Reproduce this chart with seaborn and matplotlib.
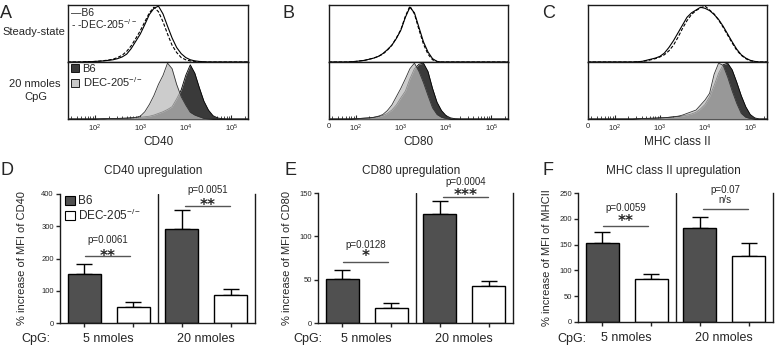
import numpy as np
import pandas as pd
import matplotlib
matplotlib.use('Agg')
import matplotlib.pyplot as plt
import seaborn as sns
from matplotlib.patches import Patch

# ---------------- data ----------------
# flow cytometry channels (log10 of fluorescence intensity)
LOG_CHANNEL = [1.4, 1.5, 1.6, 1.7, 1.8, 1.9,
               2.0, 2.1, 2.2, 2.3, 2.4, 2.5, 2.6, 2.7, 2.8, 2.9,
               3.0, 3.1, 3.2, 3.3, 3.4, 3.5, 3.6, 3.7, 3.8, 3.9,
               4.0, 4.1, 4.2, 4.3, 4.4, 4.5, 4.6, 4.7, 4.8, 4.9,
               5.0, 5.1, 5.2, 5.3, 5.4]

# normalised cell counts
CD40_SS_B6 = [0, 0, 0, 0, 0.005, 0.005,
              0.01, 0.015, 0.02, 0.03, 0.04, 0.06, 0.09, 0.14, 0.24, 0.37,
              0.5, 0.67, 0.85, 0.96, 1.0, 0.86, 0.64, 0.43, 0.26, 0.15,
              0.08, 0.04, 0.02, 0.01, 0.005, 0, 0, 0, 0, 0,
              0, 0, 0, 0, 0]
CD40_SS_DEC = [0, 0, 0, 0, 0.005, 0.005,
               0.01, 0.015, 0.025, 0.035, 0.05, 0.08, 0.12, 0.19, 0.29, 0.42,
               0.56, 0.72, 0.88, 0.98, 0.9, 0.72, 0.5, 0.3, 0.17, 0.08,
               0.04, 0.02, 0.01, 0.005, 0, 0, 0, 0, 0, 0,
               0, 0, 0, 0, 0]
CD40_CPG_B6 = [0, 0, 0, 0, 0, 0,
               0, 0, 0.005, 0.005, 0.01, 0.01, 0.01, 0.015, 0.02, 0.02,
               0.03, 0.04, 0.05, 0.07, 0.1, 0.13, 0.17, 0.22, 0.36, 0.52,
               0.78, 0.97, 0.82, 0.56, 0.32, 0.16, 0.06, 0.02, 0.005, 0,
               0, 0, 0, 0, 0]
CD40_CPG_DEC = [0, 0, 0, 0, 0, 0,
                0, 0.005, 0.005, 0.01, 0.01, 0.01, 0.015, 0.015, 0.02, 0.03,
                0.05, 0.13, 0.26, 0.42, 0.62, 0.78, 1.0, 0.9, 0.62, 0.4,
                0.25, 0.12, 0.07, 0.04, 0.01, 0.005, 0, 0, 0, 0,
                0, 0, 0, 0, 0]

CD80_SS_B6 = [0, 0, 0, 0, 0, 0.005,
              0.01, 0.02, 0.03, 0.05, 0.07, 0.1, 0.15, 0.22, 0.3, 0.42,
              0.57, 0.8, 0.98, 0.88, 0.62, 0.36, 0.18, 0.06, 0.01, 0,
              0, 0, 0, 0, 0, 0, 0, 0, 0, 0,
              0, 0, 0, 0, 0]
CD80_SS_DEC = [0, 0, 0, 0, 0, 0.005,
               0.01, 0.02, 0.03, 0.05, 0.07, 0.1, 0.14, 0.21, 0.3, 0.43,
               0.58, 0.82, 1.0, 0.86, 0.58, 0.32, 0.14, 0.04, 0.01, 0,
               0, 0, 0, 0, 0, 0, 0, 0, 0, 0,
               0, 0, 0, 0, 0]
CD80_CPG_B6 = [0, 0, 0, 0, 0, 0,
               0.005, 0.01, 0.015, 0.02, 0.03, 0.04, 0.06, 0.1, 0.16, 0.25,
               0.38, 0.5, 0.72, 0.9, 0.98, 1.0, 0.85, 0.55, 0.3, 0.15,
               0.06, 0.02, 0.005, 0, 0, 0, 0, 0, 0, 0,
               0, 0, 0, 0, 0]
CD80_CPG_DEC = [0, 0, 0, 0, 0, 0,
                0.005, 0.01, 0.015, 0.02, 0.03, 0.05, 0.08, 0.15, 0.25, 0.4,
                0.55, 0.72, 0.9, 1.0, 0.85, 0.65, 0.42, 0.2, 0.08, 0.03,
                0.01, 0, 0, 0, 0, 0, 0, 0, 0, 0,
                0, 0, 0, 0, 0]

MHC_SS_B6 = [0, 0, 0, 0, 0, 0,
             0, 0, 0, 0, 0, 0.005, 0.01, 0.03, 0.05, 0.07,
             0.1, 0.16, 0.26, 0.38, 0.52, 0.66, 0.8, 0.88, 0.93, 0.98,
             0.96, 0.92, 0.85, 0.76, 0.64, 0.5, 0.36, 0.23, 0.13, 0.07,
             0.03, 0.01, 0, 0, 0]
MHC_SS_DEC = [0, 0, 0, 0, 0, 0,
              0, 0, 0, 0, 0, 0.005, 0.01, 0.02, 0.04, 0.06,
              0.09, 0.13, 0.2, 0.3, 0.44, 0.6, 0.74, 0.85, 0.92, 0.97,
              1.0, 0.93, 0.86, 0.75, 0.62, 0.48, 0.34, 0.21, 0.12, 0.06,
              0.02, 0.01, 0, 0, 0]
MHC_CPG_B6 = [0, 0, 0, 0, 0, 0,
              0, 0, 0, 0, 0, 0.005, 0.01, 0.01, 0.01, 0.015,
              0.02, 0.02, 0.03, 0.035, 0.04, 0.05, 0.07, 0.09, 0.12, 0.18,
              0.26, 0.4, 0.6, 0.82, 0.97, 1.0, 0.88, 0.66, 0.42, 0.22,
              0.08, 0.02, 0, 0, 0]
MHC_CPG_DEC = [0, 0, 0, 0, 0, 0,
               0, 0, 0, 0, 0, 0.005, 0.01, 0.01, 0.015, 0.015,
               0.02, 0.025, 0.03, 0.04, 0.05, 0.07, 0.1, 0.13, 0.16, 0.25,
               0.34, 0.46, 0.8, 1.0, 0.96, 0.75, 0.5, 0.28, 0.1, 0.03,
               0.01, 0, 0, 0, 0]

HIST_TICKS = [1e2, 1e3, 1e4, 1e5]
HIST_TICK_LABELS = ['$10^2$', '$10^3$', '$10^4$', '$10^5$']

# bar charts: % increase of MFI (mean, SEM)
COND = ['B6 5', 'DEC 5', 'B6 20', 'DEC 20']
STRAIN = ['B6', 'DEC-205-/-', 'B6', 'DEC-205-/-']
DOSE_LABELS = ['5 nmoles', '20 nmoles']
CD40_MEAN = [153, 50, 292, 88]
CD40_SEM = [30, 15, 58, 18]
CD80_MEAN = [51, 17, 126, 43]
CD80_SEM = [10.5, 6.5, 15, 5]
MHC_MEAN = [154, 83, 182, 128]
MHC_SEM = [20, 10, 21, 26]
CD40_P = ['p=0.0061', 'p=0.0051']
CD40_SIG = ['**', '**']
CD80_P = ['p=0.0128', 'p=0.0004']
CD80_SIG = ['*', '***']
MHC_P = ['p=0.0059', 'p=0.07']
MHC_SIG = ['**', 'n/s']

# ---------------- style ----------------
sns.set_theme(style='ticks')
plt.rcParams['font.family'] = ['Liberation Sans', 'DejaVu Sans']
plt.rcParams['mathtext.fontset'] = 'custom'
plt.rcParams['mathtext.rm'] = 'Liberation Sans'
plt.rcParams['mathtext.it'] = 'Liberation Sans:italic'
plt.rcParams['mathtext.bf'] = 'Liberation Sans:bold'
plt.rcParams['axes.linewidth'] = 1.0
plt.rcParams['axes.edgecolor'] = '#1a1a1a'

HIST_DARK = '#3a3a3a'
HIST_LIGHT = (0.73, 0.73, 0.73)
BAR_DARK = '#505050'
SUP = '$^{-/-}$'

W, H = 775, 347
fig = plt.figure(figsize=(W / 100, H / 100), dpi=100)


def px_axes(x0, y0, x1, y1):
    return fig.add_axes([x0 / W, 1 - y1 / H, (x1 - x0) / W, (y1 - y0) / H])


def ftext(x, y, s, **kw):
    return fig.text(x / W, 1 - y / H, s, **kw)


XS = 10 ** np.array(LOG_CHANNEL)
XLIM = (10 ** 1.41, 10 ** 5.37)


def hist_pair(x0, x1, top_b6, top_dec, bot_b6, bot_dec, xlabel, show_zero):
    ax_t = px_axes(x0, 5, x1, 62)
    ax_b = px_axes(x0, 62, x1, 119)
    for ax in (ax_t, ax_b):
        ax.set_xscale('log')
        for s in ax.spines.values():
            s.set_visible(True)
            s.set_linewidth(1.0)
            s.set_color('#1a1a1a')
    # steady state: outlines only
    sns.lineplot(x=XS, y=top_b6, ax=ax_t, color='black', linewidth=0.8,
                 estimator=None, sort=False)
    sns.lineplot(x=XS, y=top_dec, ax=ax_t, color='black', linewidth=0.8,
                 linestyle=(0, (3, 1.6)), estimator=None, sort=False)
    # CpG: filled histograms
    ax_b.fill_between(XS, bot_b6, color=HIST_DARK, linewidth=0, zorder=1)
    sns.lineplot(x=XS, y=bot_b6, ax=ax_b, color='black', linewidth=0.6,
                 estimator=None, sort=False, zorder=2)
    ax_b.fill_between(XS, bot_dec, color=HIST_LIGHT, alpha=0.74, linewidth=0, zorder=3)
    sns.lineplot(x=XS, y=bot_dec, ax=ax_b, color='#333333', linewidth=0.6,
                 estimator=None, sort=False, zorder=4)
    for ax in (ax_t, ax_b):
        ax.set_xlim(*XLIM)
        ax.set_ylim(0, 1.02)
        ax.set_ylabel('')
        ax.set_xlabel('')
        ax.set_yticks([])
    ax_t.tick_params(axis='x', which='both', bottom=False, labelbottom=False)
    ticks = list(HIST_TICKS)
    labels = list(HIST_TICK_LABELS)
    if show_zero:
        ticks = [XLIM[0]] + ticks
        labels = ['0'] + labels
    ax_b.set_xticks(ticks, labels=labels)
    ax_b.tick_params(axis='x', which='major', direction='in', length=3, width=0.8,
                     labelsize=5.5, pad=3)
    ax_b.tick_params(axis='x', which='minor', direction='in', length=2, width=0.6)
    ax_b.set_xlabel(xlabel, fontsize=8.5, labelpad=1)
    return ax_t, ax_b


axA_t, axA_b = hist_pair(68, 248, CD40_SS_B6, CD40_SS_DEC, CD40_CPG_B6, CD40_CPG_DEC, 'CD40', False)
axB_t, axB_b = hist_pair(329, 508, CD80_SS_B6, CD80_SS_DEC, CD80_CPG_B6, CD80_CPG_DEC, 'CD80', True)
axC_t, axC_b = hist_pair(588, 767, MHC_SS_B6, MHC_SS_DEC, MHC_CPG_B6, MHC_CPG_DEC, 'MHC class II', True)

# legends in panel A
ftext(71, 16, '\u2014B6', fontsize=7.5, ha='left', va='baseline')
ftext(71, 29, '- -DEC-205' + SUP, fontsize=7.5, ha='left', va='baseline')
axA_b.legend(handles=[Patch(facecolor=HIST_DARK, edgecolor='black', linewidth=0.6, label='B6'),
                      Patch(facecolor='#c8c8c8', edgecolor='black', linewidth=0.6,
                            label='DEC-205' + SUP)],
             loc='upper left', bbox_to_anchor=(0.01, 0.98), frameon=False,
             fontsize=8, handlelength=0.75, handleheight=0.75, handletextpad=0.3,
             labelspacing=0.1, borderpad=0.1, borderaxespad=0)

ftext(34, 35, 'Steady-state', fontsize=8, ha='center', va='baseline')
ftext(35, 87, '20 nmoles', fontsize=8, ha='center', va='baseline')
ftext(36, 99.5, 'CpG', fontsize=8, ha='center', va='baseline')

for letter, x in (('A', 0), ('B', 283), ('C', 542)):
    ftext(x, 18, letter, fontsize=13, ha='left', va='baseline')
for letter, x in (('D', 0), ('E', 284), ('F', 542)):
    ftext(x, 175, letter, fontsize=13, ha='left', va='baseline')


def bar_panel(box, means, sems, ymax, ystep, ylabel, label_x, pvals, sigs,
              line_y, sig_y, p_y, title, title_x, cpg_x):
    ax = px_axes(*box)
    df = pd.DataFrame({'cond': COND, 'strain': STRAIN, 'value': means})
    sns.barplot(data=df, x='cond', y='value', hue='strain', order=COND,
                hue_order=['B6', 'DEC-205-/-'], palette=[BAR_DARK, 'white'],
                dodge=False, width=0.68, edgecolor='black', linewidth=1.0,
                errorbar=None, legend=False, ax=ax, zorder=2)
    bars = sorted([p for p in ax.patches if p.get_height() > 0], key=lambda p: p.get_x())
    cx = np.array([p.get_x() + p.get_width() / 2 for p in bars])
    tops = np.array([p.get_height() for p in bars])
    ax.errorbar(cx, tops, yerr=[np.zeros(len(sems)), sems], fmt='none', ecolor='black',
                elinewidth=1.0, capsize=5.5, capthick=1.0, zorder=1.5)
    ax.set_xlim(-0.5, 3.5)
    ax.set_ylim(0, ymax)
    ax.axvline(1.5, color='#1a1a1a', linewidth=1.0)
    sns.despine(ax=ax, top=True, right=False)
    ax.set_yticks(np.arange(0, ymax + 1, ystep))
    ax.tick_params(axis='y', length=3, width=1.0, labelsize=5.5, pad=1.5)
    ax.set_xticks(cx, labels=[''] * len(cx))
    ax.tick_params(axis='x', which='major', length=3, width=1.0)
    ax.set_xticks([0.5, 2.5], labels=DOSE_LABELS, minor=True)
    ax.tick_params(axis='x', which='minor', length=0, labelsize=9, pad=7)
    ax.set_xlabel('')
    ax.set_ylabel(ylabel, fontsize=8)
    ax.yaxis.set_label_coords(label_x, 0.5)
    # significance brackets
    for i, (xa, xb) in enumerate(((0.02, 0.94), (2.06, 2.98))):
        ax.plot([xa, xb], [line_y[i], line_y[i]], color='#555555', linewidth=1.0,
                clip_on=False)
        xm = (xa + xb) / 2
        ax.text(xm, p_y[i], pvals[i], fontsize=7, ha='center', va='center', clip_on=False)
        if sigs[i].startswith('*'):
            ax.annotate(sigs[i], (xm, sig_y[i]), xytext=(0, -6.2), textcoords='offset points',
                        fontsize=11, fontweight='bold', family='DejaVu Sans',
                        ha='center', va='baseline', annotation_clip=False)
        else:
            ax.text(xm, sig_y[i], sigs[i], fontsize=7, ha='center', va='center', clip_on=False)
    ftext(title_x, 174, title, fontsize=8.5, ha='center', va='baseline')
    ftext(cpg_x, 339, 'CpG:', fontsize=9, ha='center', va='center')
    return ax


axD = bar_panel((60, 194, 255, 323), CD40_MEAN, CD40_SEM, 400, 100,
                '% increase of MFI of CD40', -0.17, CD40_P, CD40_SIG,
                [208, 363], [220, 378], [257, 412], 'CD40 upregulation', 153, 36)
axE = bar_panel((318, 193, 513, 323), CD80_MEAN, CD80_SEM, 150, 50,
                '% increase of MFI of CD80', -0.135, CD80_P, CD80_SIG,
                [70, 145], [81, 152], [90, 163], 'CD80 upregulation', 411, 308)
axF = bar_panel((578, 193, 773, 322), MHC_MEAN, MHC_SEM, 250, 50,
                '% increase of MFI of MHCII', -0.135, MHC_P, MHC_SIG,
                [186, 219], [203, 236], [221, 256], 'MHC class II upregulation', 673, 572)

axD.legend(handles=[Patch(facecolor=BAR_DARK, edgecolor='black', linewidth=0.8, label='B6'),
                    Patch(facecolor='white', edgecolor='black', linewidth=0.8,
                          label='DEC-205' + SUP)],
           loc='upper left', bbox_to_anchor=(0.02, 1.0), frameon=False,
           fontsize=8.5, handlelength=0.8, handleheight=0.8, handletextpad=0.3,
           labelspacing=0.05, borderpad=0.1, borderaxespad=0)

fig.savefig('out.png', dpi=100)
